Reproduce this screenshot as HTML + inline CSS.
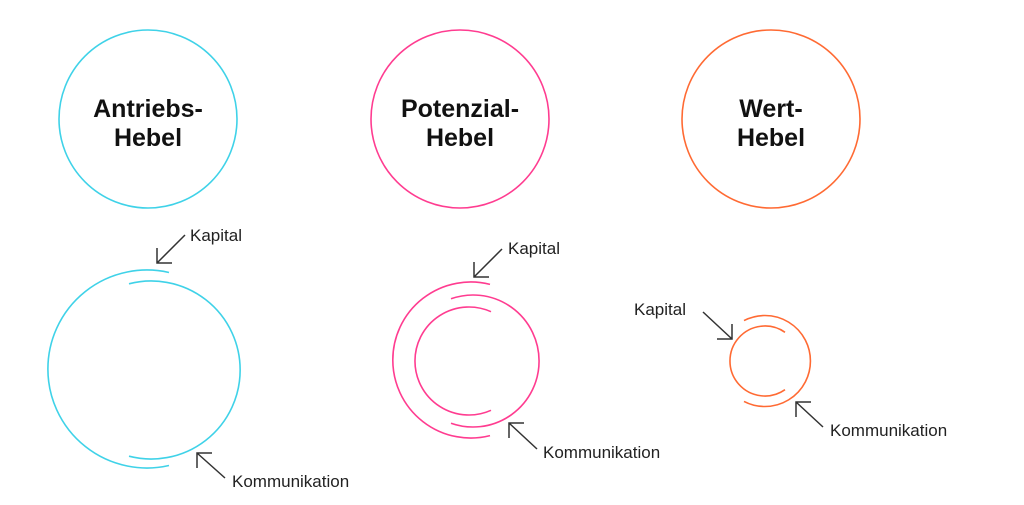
<!DOCTYPE html>
<html><head><meta charset="utf-8"><style>
html,body{margin:0;padding:0;background:#fff;}
svg{display:block;}
text{font-family:"Liberation Sans",sans-serif;}
.t{font-size:25px;font-weight:bold;fill:#111;text-anchor:middle;}
.l{font-size:17px;fill:#222;}
.a{stroke:#333;stroke-width:1.5;fill:none;}
</style></head><body>
<svg width="1024" height="505" viewBox="0 0 1024 505">
<circle cx="148" cy="119" r="89" fill="none" stroke="#3fd2e8" stroke-width="1.6"/>
<circle cx="460" cy="119" r="89" fill="none" stroke="#ff3c90" stroke-width="1.6"/>
<circle cx="771" cy="119" r="89" fill="none" stroke="#ff6a33" stroke-width="1.6"/>
<text class="t" x="148" y="117">Antriebs-</text><text class="t" x="148" y="146">Hebel</text>
<text class="t" x="460" y="117">Potenzial-</text><text class="t" x="460" y="146">Hebel</text>
<text class="t" x="771" y="117">Wert-</text><text class="t" x="771" y="146">Hebel</text>

<g fill="none" stroke="#3fd2e8" stroke-width="1.6">
<path d="M169,272.5 A99,99 0 1 0 169,465.5"/>
<path d="M129,283.8 A89,89 0 1 1 129,456.2"/>
</g>
<g fill="none" stroke="#ff3c90" stroke-width="1.6">
<path d="M490,284.4 A78,78 0 1 0 490,435.6"/>
<path d="M451,298.8 A66,66 0 1 1 451,423.2"/>
<path d="M491,311.7 A54,54 0 1 0 491,410.3"/>
</g>
<g fill="none" stroke="#ff6a33" stroke-width="1.6">
<path d="M744,320.6 A45.5,45.5 0 1 1 744,401.4"/>
<path d="M785,332.3 A35,35 0 1 0 785,389.7"/>
</g>

<g class="a">
<path d="M185,235 L157,263 M157,248 L157,263 L172,263"/>
<path d="M225,478 L197,453 M197,468 L197,453 L212,453"/>
<path d="M502,249 L474,277 M474,262 L474,277 L489,277"/>
<path d="M537,449 L509,423 M509,438 L509,423 L524,423"/>
<path d="M703,312 L732,339 M732,324 L732,339 L717,339"/>
<path d="M823,427 L796,402 M796,417 L796,402 L811,402"/>
</g>
<text class="l" x="190" y="241">Kapital</text>
<text class="l" x="232" y="487">Kommunikation</text>
<text class="l" x="508" y="254">Kapital</text>
<text class="l" x="543" y="458">Kommunikation</text>
<text class="l" x="634" y="315">Kapital</text>
<text class="l" x="830" y="436">Kommunikation</text>
</svg>
</body></html>
